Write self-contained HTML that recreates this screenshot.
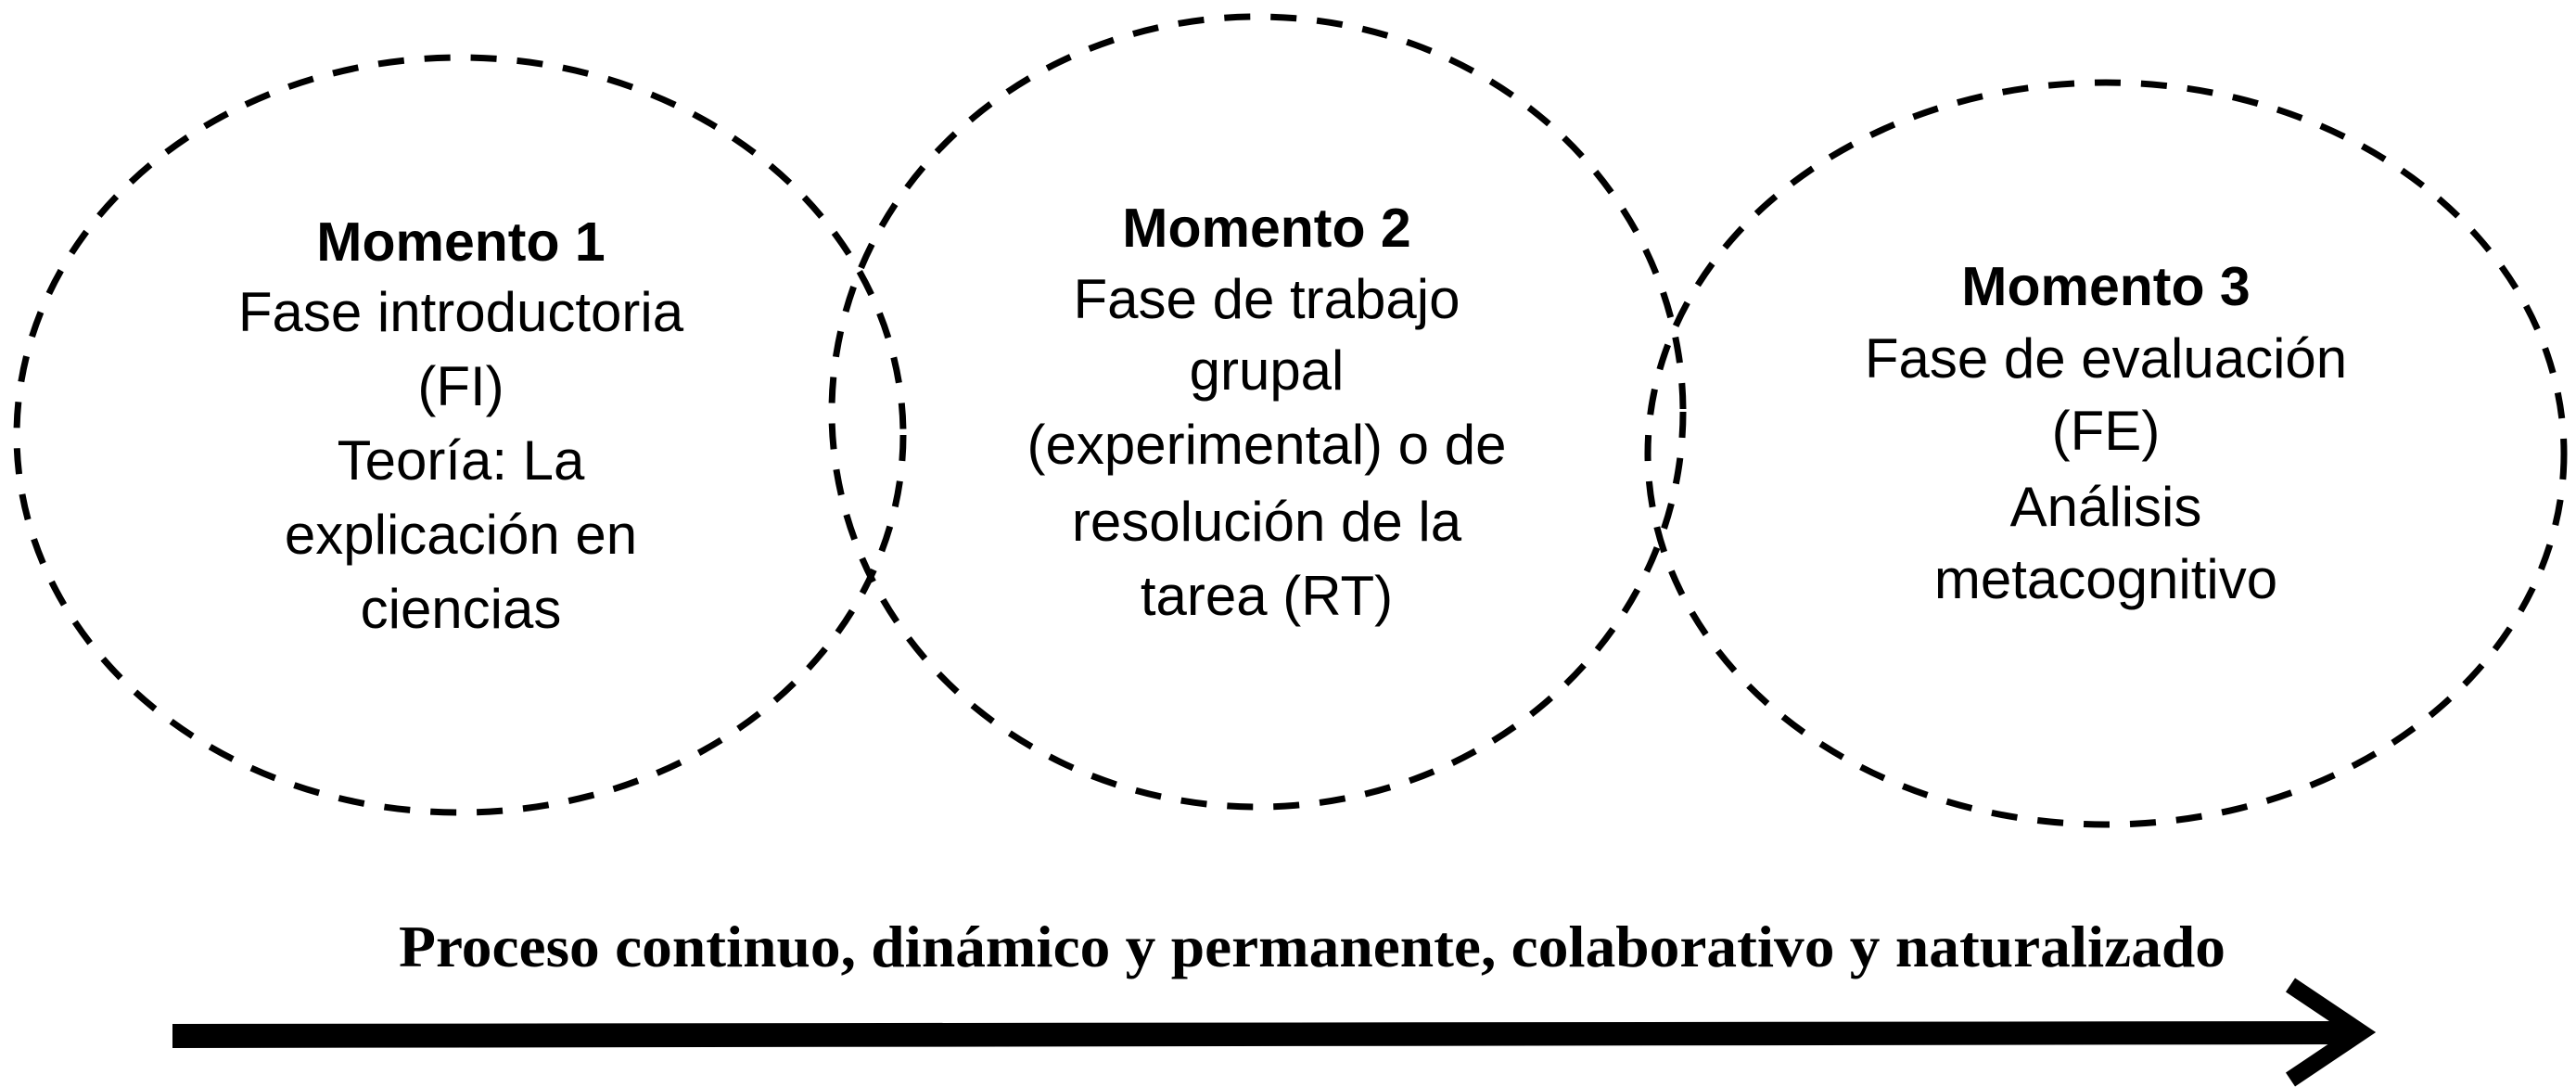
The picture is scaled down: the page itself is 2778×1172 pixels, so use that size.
<!DOCTYPE html>
<html><head><meta charset="utf-8"><style>html,body{margin:0;padding:0;background:#fff}svg{display:block}</style></head>
<body>
<svg width="2778" height="1172" viewBox="0 0 2778 1172" xmlns="http://www.w3.org/2000/svg">
<g fill="none" stroke="#000" stroke-width="7" stroke-dasharray="28 22">
<ellipse cx="496" cy="469" rx="478" ry="407"/>
<ellipse cx="1356" cy="444" rx="459" ry="426"/>
<ellipse cx="2271" cy="489" rx="494" ry="400"/>
</g>
<g font-family="Liberation Sans, sans-serif" font-size="60" text-anchor="middle" fill="#000">
<text x="497" y="281" font-weight="bold" font-size="59">Momento 1</text>
<text x="497" y="357">Fase introductoria</text>
<text x="497" y="437">(FI)</text>
<text x="497" y="517">Teoría: La</text>
<text x="497" y="597">explicación en</text>
<text x="497" y="677">ciencias</text>
<text x="1366" y="266" font-weight="bold" font-size="59">Momento 2</text>
<text x="1366" y="343">Fase de trabajo</text>
<text x="1366" y="420">grupal</text>
<text x="1366" y="500">(experimental) o de</text>
<text x="1366" y="583">resolución de la</text>
<text x="1366" y="663">tarea (RT)</text>
<text x="2271" y="329" font-weight="bold" font-size="59">Momento 3</text>
<text x="2271" y="407">Fase de evaluación</text>
<text x="2271" y="485">(FE)</text>
<text x="2271" y="567">Análisis</text>
<text x="2271" y="645">metacognitivo</text>
</g>
<text x="430" y="1042" font-family="Liberation Serif, serif" font-weight="bold" font-size="64" textLength="1970" lengthAdjust="spacingAndGlyphs">Proceso continuo, dinámico y permanente, colaborativo y naturalizado</text>
<polygon points="186,1104 2530,1101 2530,1126 186,1130" fill="#000"/>
<polyline points="2470,1062 2546,1113 2470,1164" fill="none" stroke="#000" stroke-width="18" stroke-linejoin="miter"/>
</svg>
</body></html>
